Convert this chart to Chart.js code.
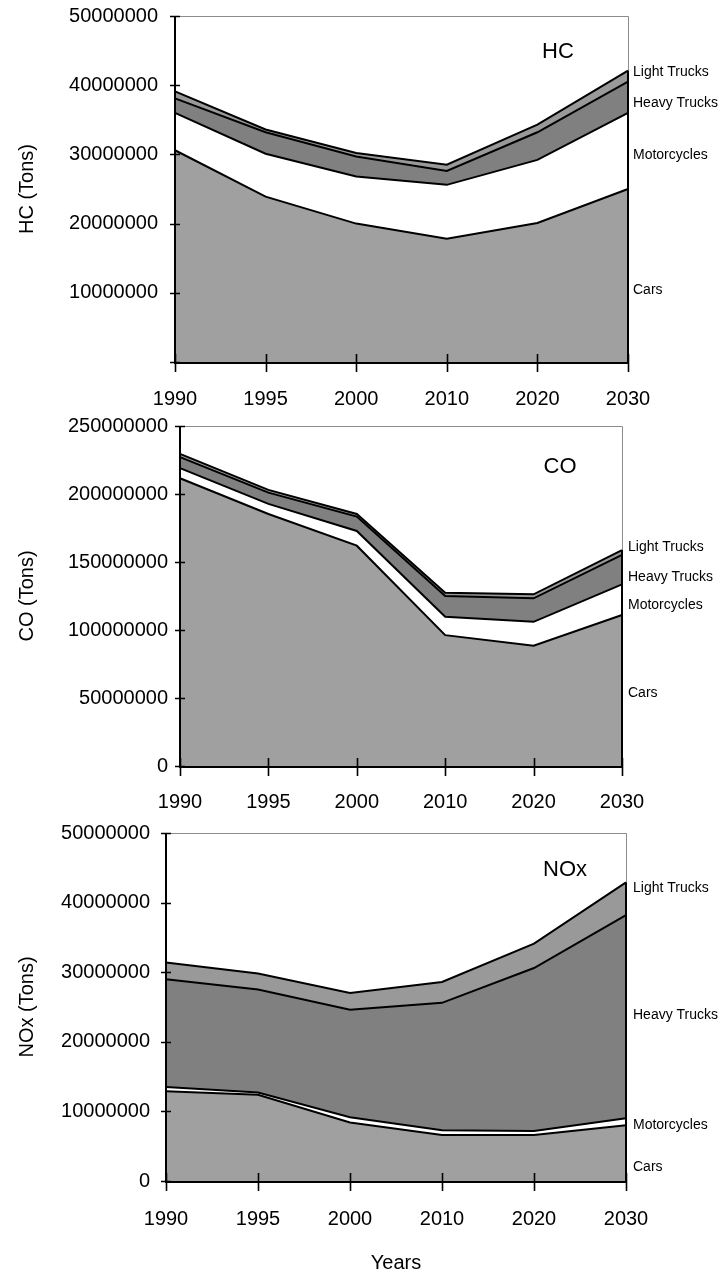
<!DOCTYPE html>
<html>
<head>
<meta charset="utf-8">
<script src="https://cdn.jsdelivr.net/npm/chart.js@4.4.1/dist/chart.umd.min.js"></script>
<style>
  html, body { margin: 0; padding: 0; background: #ffffff; }
  #wrap { position: relative; width: 723px; height: 1276px; overflow: hidden; }
  #wrap canvas { position: absolute; left: 0; }
</style>
</head>
<body>
<div id="wrap">
  <canvas id="hcChart" width="723" height="415" style="top:0px"></canvas>
  <canvas id="coChart" width="723" height="400" style="top:415px"></canvas>
  <canvas id="noxChart" width="723" height="461" style="top:815px"></canvas>
</div>
<script>
// Emission estimates by vehicle class, in tons per year
const years = ['1990', '1995', '2000', '2010', '2020', '2030'];
const seriesNames = ['Cars', 'Motorcycles', 'Heavy Trucks', 'Light Trucks'];

const hcCars         = [30600000, 23900000, 20000000, 17800000, 20100000, 25000000];
const hcMotorcycles  = [5400000, 6200000, 6800000, 7800000, 9100000, 11000000];
const hcHeavyTrucks  = [2100000, 3100000, 2900000, 2000000, 4000000, 4500000];
const hcLightTrucks  = [1000000, 400000, 500000, 900000, 1100000, 1600000];

const coCars         = [211600000, 185300000, 162000000, 96200000, 88400000, 111000000];
const coMotorcycles  = [7400000, 7400000, 10800000, 13500000, 17600000, 22600000];
const coHeavyTrucks  = [8100000, 8300000, 10600000, 15300000, 17300000, 21600000];
const coLightTrucks  = [2400000, 2000000, 1900000, 2400000, 2900000, 3600000];

const noxCars        = [12900000, 12400000, 8400000, 6600000, 6600000, 8000000];
const noxMotorcycles = [600000, 300000, 750000, 700000, 600000, 1000000];
const noxHeavyTrucks = [15500000, 14800000, 15450000, 18300000, 23400000, 29200000];
const noxLightTrucks = [2400000, 2300000, 2400000, 3000000, 3500000, 4700000];

// Y-axis tick values and their printed labels
const hcTickValues  = [0, 10000000, 20000000, 30000000, 40000000, 50000000];
const hcTickLabels  = ['', '10000000', '20000000', '30000000', '40000000', '50000000'];
const coTickValues  = [0, 50000000, 100000000, 150000000, 200000000, 250000000];
const coTickLabels  = ['0', '50000000', '100000000', '150000000', '200000000', '250000000'];
const noxTickValues = [0, 10000000, 20000000, 30000000, 40000000, 50000000];
const noxTickLabels = ['0', '10000000', '20000000', '30000000', '40000000', '50000000'];

const FONT = "'Liberation Sans', Arial, Helvetica, sans-serif";
const fills = ['#a0a0a0', '#ffffff', '#808080', '#999999'];

// Frame, axes with crossing tick marks, right-edge outline, series captions and pollutant name
const panelDecor = {
  id: 'panelDecor',
  beforeDatasetsDraw(chart) {
    const { ctx, chartArea: a } = chart;
    ctx.save();
    ctx.strokeStyle = '#8c8c8c';
    ctx.lineWidth = 1;
    ctx.beginPath();
    ctx.moveTo(a.left, a.top + 0.5);
    ctx.lineTo(a.right + 0.5, a.top + 0.5);
    ctx.lineTo(a.right + 0.5, a.bottom);
    ctx.stroke();
    ctx.restore();
  },
  afterDatasetsDraw(chart, args, opts) {
    const { ctx, chartArea: a } = chart;
    const xs = chart.scales.x, ys = chart.scales.y;
    ctx.save();

    // closing edge of the stacked areas at the last year
    const last = chart.data.labels.length - 1;
    let total = 0;
    chart.data.datasets.forEach(d => { total += d.data[last]; });
    const xr = xs.getPixelForValue(last);
    ctx.strokeStyle = '#000';
    ctx.lineWidth = 2;
    ctx.beginPath();
    ctx.moveTo(xr, ys.getPixelForValue(0));
    ctx.lineTo(xr, ys.getPixelForValue(total));
    ctx.stroke();

    // axis lines
    ctx.lineWidth = 2;
    ctx.beginPath();
    ctx.moveTo(a.left, a.top);
    ctx.lineTo(a.left, a.bottom + 1);
    ctx.moveTo(a.left - 1, a.bottom + 1);
    ctx.lineTo(a.right + 1, a.bottom + 1);
    ctx.stroke();

    // tick marks crossing the axes
    ctx.lineWidth = 1.6;
    ctx.beginPath();
    ys.ticks.forEach(t => {
      const y = Math.round(ys.getPixelForValue(t.value)) + 0.5;
      ctx.moveTo(a.left - 5, y);
      ctx.lineTo(a.left + 5, y);
    });
    xs.ticks.forEach((t, i) => {
      const x = Math.round(xs.getPixelForTick(i)) + 0.5;
      ctx.moveTo(x, a.bottom - 8);
      ctx.lineTo(x, a.bottom + 10);
    });
    ctx.stroke();

    // series captions beside the right edge
    ctx.fillStyle = '#000';
    ctx.font = '14px ' + FONT;
    ctx.textAlign = 'left';
    ctx.textBaseline = 'middle';
    opts.captions.forEach(c => {
      ctx.fillText(c.text, a.right + opts.captionGap, ys.getPixelForValue(c.at));
    });

    // pollutant name inside the plot
    ctx.font = '22px ' + FONT;
    ctx.textAlign = 'center';
    ctx.fillText(opts.name, a.right + opts.nameDx, a.top + opts.nameDy);
    ctx.restore();
  }
};

function makePanel(id, cfg) {
  const series = [cfg.cars, cfg.motorcycles, cfg.heavy, cfg.light];
  const datasets = series.map((vals, i) => ({
    label: seriesNames[i],
    data: vals,
    fill: i === 0 ? 'origin' : '-1',
    backgroundColor: fills[i],
    borderColor: '#000',
    borderWidth: 2,
    pointRadius: 0,
    tension: 0
  }));

  return new Chart(document.getElementById(id), {
    type: 'line',
    data: { labels: years, datasets },
    plugins: [panelDecor],
    options: {
      responsive: false,
      animation: false,
      events: [],
      layout: { padding: { top: cfg.padTop, right: cfg.padRight, bottom: 0, left: 0 } },
      plugins: {
        legend: { display: false },
        tooltip: { enabled: false },
        panelDecor: {
          name: cfg.name, nameDx: cfg.nameDx, nameDy: cfg.nameDy,
          captionGap: cfg.captionGap,
          captions: seriesNames.map((s, i) => ({ text: s, at: cfg.captionAt[i] }))
        }
      },
      scales: {
        x: {
          type: 'category',
          offset: false,
          grid: { display: false, drawTicks: false },
          border: { display: false },
          ticks: { padding: cfg.xPad, maxRotation: 0, autoSkip: false, color: '#000', font: { family: FONT, size: 20 } },
          title: cfg.xTitle
            ? { display: true, text: cfg.xTitle, color: '#000', font: { family: FONT, size: 20 }, padding: { top: 0, bottom: 1 } }
            : { display: false },
          afterFit: s => { s.height = cfg.xHeight; s.paddingLeft = 0; s.paddingRight = 0; }
        },
        y: {
          stacked: true,
          min: cfg.tickValues[0],
          max: cfg.tickValues[cfg.tickValues.length - 1],
          afterBuildTicks: s => { s.ticks = cfg.tickValues.map(v => ({ value: v })); },
          grid: { display: false, drawTicks: false },
          border: { display: false },
          ticks: {
            padding: cfg.yPad,
            color: '#000',
            font: { family: FONT, size: 20 },
            callback: (v, i) => cfg.tickLabels[i]
          },
          title: { display: true, text: cfg.yTitle, color: '#000', font: { family: FONT, size: 20 }, padding: { top: 15, bottom: 0 } },
          afterFit: s => { s.width = cfg.yWidth; s.paddingTop = 0; s.paddingBottom = 0; }
        }
      }
    }
  });
}

makePanel('hcChart', {
  cars: hcCars, motorcycles: hcMotorcycles, heavy: hcHeavyTrucks, light: hcLightTrucks,
  tickValues: hcTickValues, tickLabels: hcTickLabels, yTitle: 'HC (Tons)',
  padTop: 16, padRight: 95, yWidth: 175, yPad: 17, xHeight: 53, xPad: 25,
  name: 'HC', nameDx: -70, nameDy: 36, captionGap: 5,
  captionAt: [10400000, 29900000, 37400000, 41900000]
});

makePanel('coChart', {
  cars: coCars, motorcycles: coMotorcycles, heavy: coHeavyTrucks, light: coLightTrucks,
  tickValues: coTickValues, tickLabels: coTickLabels, yTitle: 'CO (Tons)',
  padTop: 11, padRight: 101, yWidth: 180, yPad: 12, xHeight: 49, xPad: 24,
  name: 'CO', nameDx: -62, nameDy: 41, captionGap: 6,
  captionAt: [53500000, 118300000, 139000000, 161000000]
});

makePanel('noxChart', {
  cars: noxCars, motorcycles: noxMotorcycles, heavy: noxHeavyTrucks, light: noxLightTrucks,
  tickValues: noxTickValues, tickLabels: noxTickLabels, yTitle: 'NOx (Tons)', xTitle: 'Years',
  padTop: 18, padRight: 97, yWidth: 166, yPad: 16, xHeight: 95, xPad: 26,
  name: 'NOx', nameDx: -61, nameDy: 37, captionGap: 7,
  captionAt: [2000000, 8000000, 23900000, 42100000]
});
</script>
</body>
</html>
